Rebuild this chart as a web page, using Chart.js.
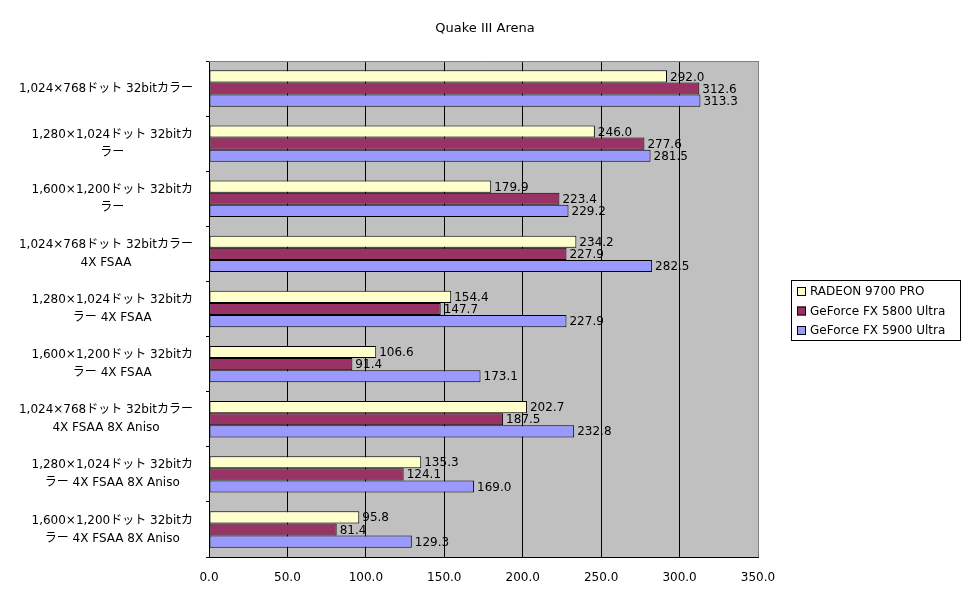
<!DOCTYPE html>
<html>
<head>
<meta charset="utf-8">
<script src="https://cdn.jsdelivr.net/npm/chart.js@4"></script>
<style>
  html, body { margin: 0; padding: 0; background: #ffffff; }
  #chart { display: block; }
</style>
</head>
<body>
<canvas id="chart" width="972" height="604"></canvas>
<script>
// data
const chartTitle = 'Quake III Arena';
const categories = [
  ['1,024×768ドット 32bitカラー'],
  ['1,280×1,024ドット 32bitカ', 'ラー'],
  ['1,600×1,200ドット 32bitカ', 'ラー'],
  ['1,024×768ドット 32bitカラー', '4X FSAA'],
  ['1,280×1,024ドット 32bitカ', 'ラー 4X FSAA'],
  ['1,600×1,200ドット 32bitカ', 'ラー 4X FSAA'],
  ['1,024×768ドット 32bitカラー', '4X FSAA 8X Aniso'],
  ['1,280×1,024ドット 32bitカ', 'ラー 4X FSAA 8X Aniso'],
  ['1,600×1,200ドット 32bitカ', 'ラー 4X FSAA 8X Aniso']
];
const seriesNames = ['RADEON 9700 PRO', 'GeForce FX 5800 Ultra', 'GeForce FX 5900 Ultra'];
const radeon9700 = [292.0, 246.0, 179.9, 234.2, 154.4, 106.6, 202.7, 135.3, 95.8];
const fx5800 = [312.6, 277.6, 223.4, 227.9, 147.7, 91.4, 187.5, 124.1, 81.4];
const fx5900 = [313.3, 281.5, 229.2, 282.5, 227.9, 173.1, 232.8, 169.0, 129.3];
const xMin = 0;
const xMax = 350;
const xStep = 50;

const seriesColors = ['#FFFFCC', '#993366', '#9999FF'];
const FONT = '"DejaVu Sans", "Noto Sans CJK JP", sans-serif';

// draws the Excel style frame, labels, title and legend
const excelLook = {
  id: 'excelLook',
  beforeDraw(chart) {
    const { ctx, chartArea: a } = chart;
    ctx.save();
    ctx.fillStyle = '#C0C0C0';
    ctx.fillRect(a.left, a.top, a.right - a.left, a.bottom - a.top);
    ctx.restore();
  },
  afterDatasetsDraw(chart) {
    const ctx = chart.ctx;
    ctx.save();
    ctx.font = '12px ' + FONT;
    ctx.fillStyle = '#000';
    ctx.textAlign = 'left';
    ctx.textBaseline = 'middle';
    chart.data.datasets.forEach((ds, i) => {
      chart.getDatasetMeta(i).data.forEach((bar, j) => {
        ctx.fillText(ds.data[j].toFixed(1), bar.x + 3, bar.y + 1);
      });
    });
    ctx.restore();
  },
  afterDraw(chart) {
    const { ctx, chartArea: a } = chart;
    const yScale = chart.scales.y;
    ctx.save();

    // top edge of plot area
    ctx.strokeStyle = '#808080';
    ctx.lineWidth = 1;
    ctx.beginPath();
    ctx.moveTo(a.left, a.top + 0.5);
    ctx.lineTo(a.right, a.top + 0.5);
    ctx.stroke();

    // category labels: block right aligned, lines centred
    ctx.font = '12px ' + FONT;
    ctx.fillStyle = '#000';
    ctx.textAlign = 'center';
    ctx.textBaseline = 'middle';
    categories.forEach((lines, i) => {
      const y = yScale.getPixelForValue(i);
      const w = Math.max(...lines.map(l => ctx.measureText(l).width));
      const cx = 193 - w / 2;
      lines.forEach((line, k) => {
        ctx.fillText(line, cx, y + (k - (lines.length - 1) / 2) * 18);
      });
    });

    // title
    ctx.font = '13px ' + FONT;
    ctx.fillText(chartTitle, 485, 29);

    // legend
    ctx.font = '12px ' + FONT;
    const lx = 791, ly = 280, lw = 169, lh = 60;
    ctx.fillStyle = '#fff';
    ctx.fillRect(lx, ly, lw, lh);
    ctx.strokeStyle = '#000';
    ctx.strokeRect(lx + 0.5, ly + 0.5, lw, lh);
    ctx.textAlign = 'left';
    chart.data.datasets.forEach((ds, i) => {
      const ry = ly + 11 + i * 19.5;
      ctx.fillStyle = ds.backgroundColor;
      ctx.fillRect(lx + 6, ry - 4, 9, 9);
      ctx.strokeStyle = '#000';
      ctx.strokeRect(lx + 6.5, ry - 3.5, 8, 8);
      ctx.fillStyle = '#000';
      ctx.fillText(ds.label, lx + 19, ry + 1);
    });
    ctx.restore();
  }
};

const seriesData = [radeon9700, fx5800, fx5900];

new Chart(document.getElementById('chart').getContext('2d'), {
  type: 'bar',
  data: {
    labels: categories,
    datasets: seriesNames.map((name, i) => ({
      label: name,
      data: seriesData[i],
      backgroundColor: seriesColors[i],
      borderColor: '#000',
      borderWidth: 1,
      borderSkipped: false,
      categoryPercentage: 0.66,
      barPercentage: 1.0
    }))
  },
  options: {
    indexAxis: 'y',
    responsive: false,
    animation: false,
    layout: { padding: { top: 61, right: 214, bottom: 0, left: 0 } },
    plugins: {
      legend: { display: false },
      title: { display: false },
      tooltip: { enabled: false }
    },
    scales: {
      x: {
        min: xMin,
        max: xMax,
        ticks: {
          stepSize: xStep,
          color: '#000',
          font: { family: FONT, size: 12 },
          padding: 14,
          callback: v => Number(v).toFixed(1)
        },
        grid: {
          color: c => (c.tick && c.tick.value === xMax ? '#808080' : '#000'),
          drawTicks: false
        },
        border: { color: '#000' },
        afterFit: s => { s.height = 47; }
      },
      y: {
        ticks: { display: false },
        grid: {
          offset: true,
          drawOnChartArea: false,
          drawTicks: true,
          tickLength: 3,
          color: '#000'
        },
        border: { color: '#000' },
        afterFit: s => { s.width = 209; }
      }
    }
  },
  plugins: [excelLook]
});
</script>
</body>
</html>
